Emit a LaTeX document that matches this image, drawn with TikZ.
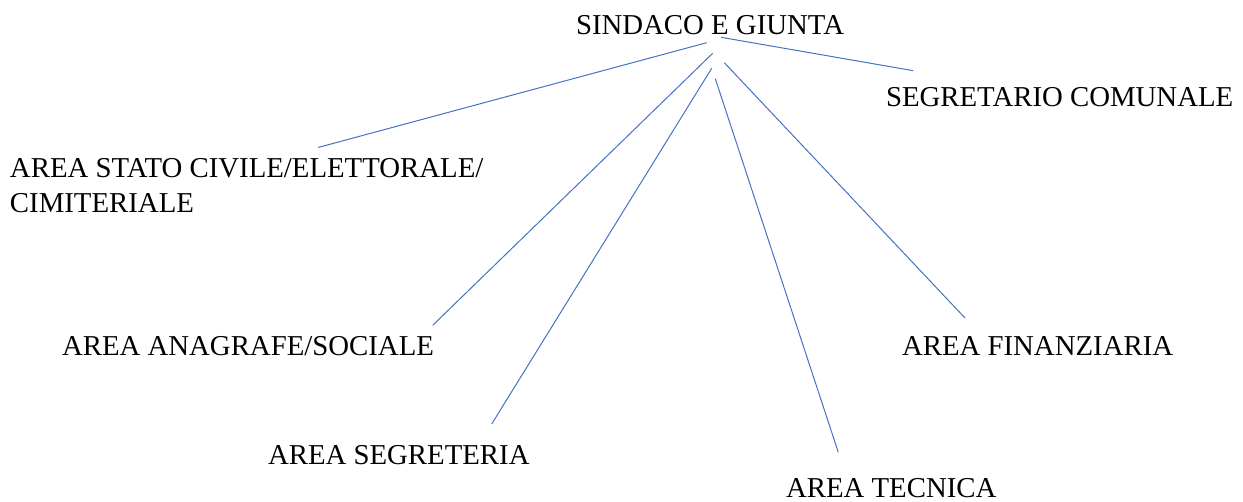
\documentclass[tikz,border=0pt]{standalone}
\usepackage{fontspec}
\setmainfont{Liberation Serif}
\definecolor{linkblue}{RGB}{68,114,196}
\tikzset{
  lbl/.style={anchor=base west, inner sep=0pt, outer sep=0pt, font=\fontsize{14.4}{17.7}\selectfont, text=black},
  link/.style={draw=linkblue, line width=0.5pt}
}
\begin{document}
\begin{tikzpicture}[x=0.5pt, y=-0.5pt]
\useasboundingbox (0,0) rectangle (1243,502);
\node[lbl] (sindaco) at (576,34.3) {SINDACO E GIUNTA};
\node[lbl] (segretario) at (886,106.3) {SEGRETARIO COMUNALE};
\node[lbl, align=left] (stato) at (10,212.7) {AREA STATO CIVILE/ELETTORALE/\\CIMITERIALE};
\node[lbl] (anagrafe) at (62,356) {AREA ANAGRAFE/SOCIALE};
\node[lbl] (segreteria) at (268,464) {AREA SEGRETERIA};
\node[lbl] (tecnica) at (786,497.3) {AREA TECNICA};
\node[lbl] (finanziaria) at (902,356) {AREA FINANZIARIA};
% connector end points
\coordinate (s1) at (706.7,42.7);  \coordinate (e1) at (318,147.5);
\coordinate (s2) at (721,37.3);    \coordinate (e2) at (913.3,70.7);
\coordinate (s3) at (712.7,53.3);  \coordinate (e3) at (432.7,325.3);
\coordinate (s4) at (711.7,68.3);  \coordinate (e4) at (491.7,424);
\coordinate (s5) at (715.3,78.7);  \coordinate (e5) at (838.3,452.3);
\coordinate (s6) at (724.3,62.7);  \coordinate (e6) at (965,318);
\draw[link] (s1) -- (e1);
\draw[link] (s2) -- (e2);
\draw[link] (s3) -- (e3);
\draw[link] (s4) -- (e4);
\draw[link] (s5) -- (e5);
\draw[link] (s6) -- (e6);
\end{tikzpicture}
\end{document}
